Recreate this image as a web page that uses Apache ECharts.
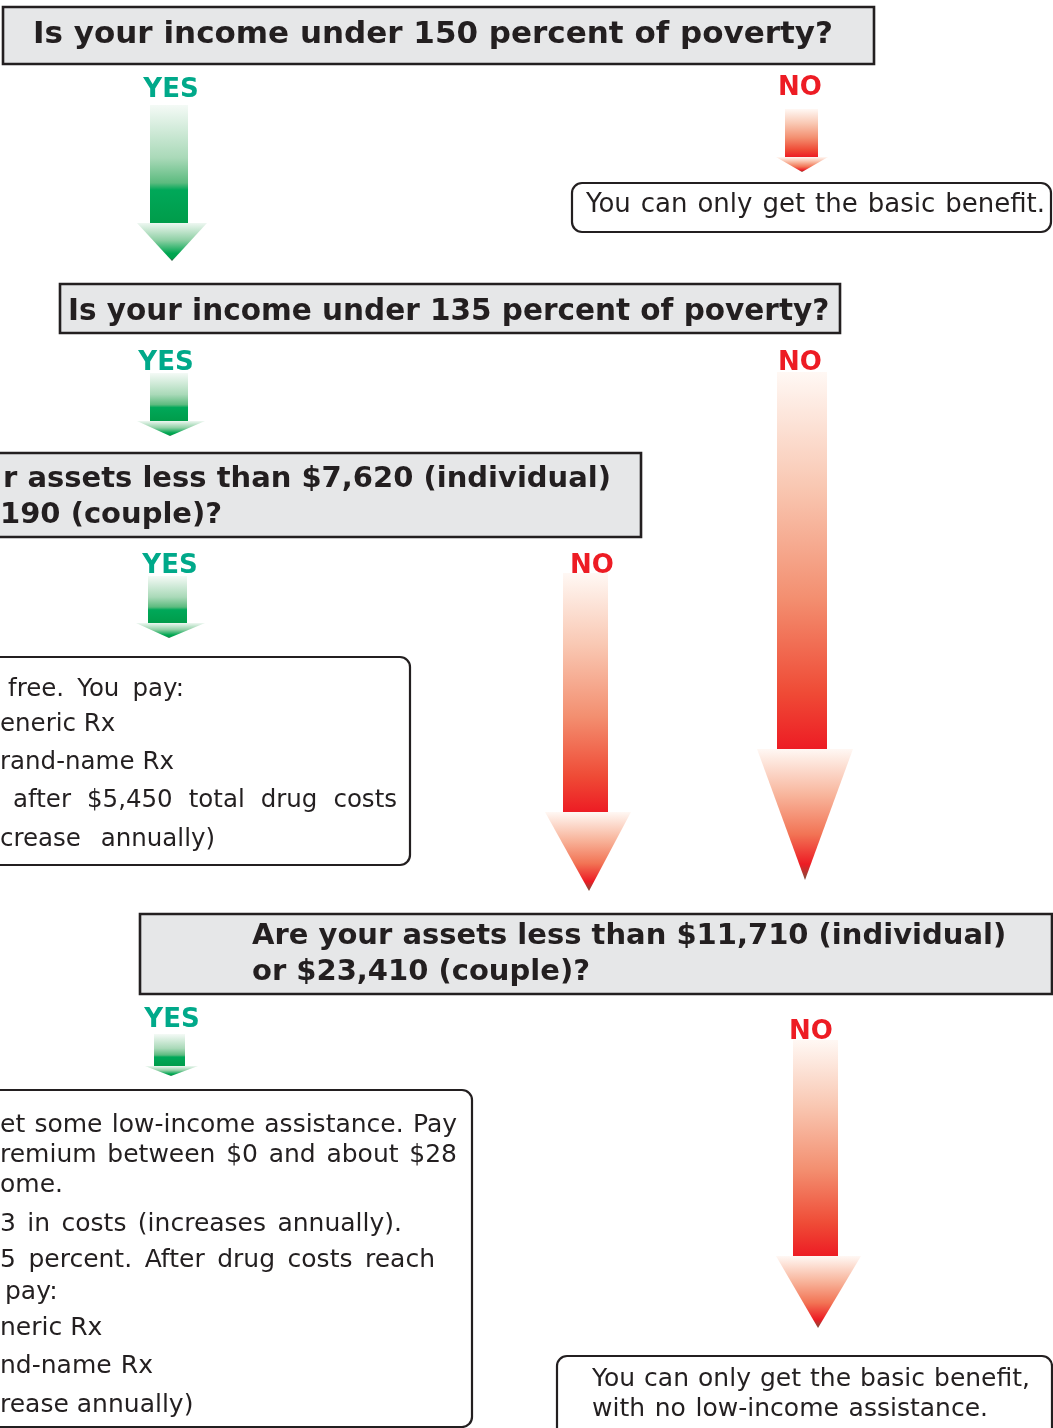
<!DOCTYPE html>
<html>
<head>
<meta charset="utf-8">
<script src="https://cdn.jsdelivr.net/npm/echarts@6/dist/echarts.min.js"></script>
<style>
html,body{margin:0;padding:0;background:#fff;}
#chart{width:1053px;height:1428px;}
</style>
</head>
<body>
<div id="chart"></div>
<script>
// texts of the flow chart
var questionText = [
	['Is your income under 150 percent of poverty?'],
	['Is your income under 135 percent of poverty?'],
	['r assets less than $7,620 (individual)', '190 (couple)?'],
	['Are your assets less than $11,710 (individual)', 'or $23,410 (couple)?']
];
var answerText = [
	['You can only get the basic benefit.'],
	['free. You pay:', 'eneric Rx', 'rand-name Rx', 'after $5,450 total drug costs', 'crease annually)'],
	['et some low-income assistance. Pay', 'remium between $0 and about $28', 'ome.',
	 '3 in costs (increases annually).', '5 percent. After drug costs reach', 'pay:',
	 'neric Rx', 'nd-name Rx', 'rease annually)'],
	['You can only get the basic benefit,', 'with no low-income assistance.']
];
var arrowLabels = ['YES', 'NO', 'YES', 'NO', 'YES', 'NO', 'YES', 'NO'];

// layout in page units (x 0..1053, y 0..1428)
var questionBox = [[3, 7, 874, 64], [60, 284, 840, 333], [-10, 453, 641, 537], [140, 914, 1052, 994]];
var questionFont = [31, 29.5, 29, 29];
var questionPos = [
	[[33, 35, 'left']],
	[[68, 312, 'left']],
	[[611, 479, 'right'], [0, 515, 'left']],
	[[252, 936, 'left'], [252, 972, 'left']]
];
var answerBox = [[572, 183, 1051, 232], [-10, 657, 410, 865], [-10, 1090, 472, 1427], [557, 1356, 1052, 1445]];
var answerFont = [26, 24.5, 25, 25];
// [left, middle y, right edge of the line]
var answerPos = [
	[[586, 205, 1045]],
	[[8, 690, 184], [0, 725, 112], [0, 763, 174], [13, 801, 397], [0, 840, 215]],
	[[0, 1125, 457], [0, 1155, 457], [0, 1185, 60], [0, 1224, 402], [0, 1260, 435], [5, 1292, 61],
	 [0, 1328, 91], [0, 1366, 153], [0, 1405, 193]],
	[[592, 1379, 1030], [592, 1409, 988]]
];
// label position, shaft [x0,x1,y0,y1], head [x0,x1,y0,tipX,tipY]
var labelPos = [[171, 90], [800, 88], [166, 363], [800, 363], [170, 566], [592, 566], [172, 1020], [811, 1032]];
var shafts = [[150, 188, 105, 223], [785, 818, 109, 157], [150, 188, 373, 421], [777, 827, 372, 749],
	[148, 187, 576, 623], [563, 608, 573, 812], [154, 185, 1034, 1066], [793, 838, 1040, 1256]];
var heads = [[137, 207, 223, 172, 261], [776, 828, 157, 802, 172], [137, 205, 421, 170, 436], [757, 853, 749, 805, 880],
	[136, 205, 623, 169, 638], [545, 631, 812, 589, 891], [145, 198, 1066, 171, 1076], [776, 861, 1256, 818, 1328]];

var FONT = '"DejaVu Sans", Verdana, sans-serif';
var INK = '#231f20';

function grad(stops) {
	return new echarts.graphic.LinearGradient(0, 0, 0, 1, stops.map(function (s) {
		return {offset: s[0], color: s[1]};
	}));
}
var greenShaft = [[0, '#f4faf6'], [0.45, '#a9d9b8'], [0.66, '#5cbb7f'], [0.72, '#00a859'], [1, '#009c4a']];
var greenHead = [[0, '#eef7f1'], [0.45, '#8fd0a5'], [0.8, '#00a651'], [0.92, '#00a04c'], [1, '#3d5a48']];
var redShaft = [[0, '#fff8f4'], [0.3, '#f9c8b3'], [0.6, '#f38f70'], [0.85, '#ef4b36'], [1, '#ed1c24']];
var redHead = [[0, '#fff8f4'], [0.35, '#f8b59c'], [0.65, '#f27455'], [0.88, '#ed1c24'], [1, '#7d4e3c']];

// text width, for spreading words across a line like the justified original
var measureCtx = document.createElement('canvas').getContext('2d');
function textWidth(str, font) {
	measureCtx.font = font;
	return measureCtx.measureText(str).width;
}

// build item lists for the custom series
var boxItems = [];
questionBox.forEach(function (b) { boxItems.push({value: b, kind: 'q'}); });
answerBox.forEach(function (b) { boxItems.push({value: b, kind: 'a'}); });

var textItems = [];
questionText.forEach(function (lines, i) {
	lines.forEach(function (t, j) {
		var p = questionPos[i][j];
		textItems.push({value: [p[0], p[1]], text: t, size: questionFont[i], weight: 'bold', align: p[2], color: INK});
	});
});
answerText.forEach(function (lines, i) {
	lines.forEach(function (t, j) {
		var p = answerPos[i][j];
		textItems.push({value: [p[0], p[1]], right: p[2], text: t, size: answerFont[i], weight: 'normal',
			align: 'left', color: INK});
	});
});
arrowLabels.forEach(function (t, i) {
	textItems.push({value: labelPos[i], text: t, size: 26, weight: 'bold', align: 'center',
		color: t === 'YES' ? '#00a98a' : '#ed1c24'});
});

var arrowItems = arrowLabels.map(function (t, i) {
	return {value: shafts[i].concat(heads[i]), yes: t === 'YES'};
});

var myChart = echarts.init(document.getElementById('chart'));
var option = {
	backgroundColor: '#fff',
	animation: false,
	grid: {left: 0, right: 0, top: 0, bottom: 0},
	xAxis: {type: 'value', min: 0, max: 1053, show: false},
	yAxis: {type: 'value', min: 0, max: 1428, inverse: true, show: false},
	series: [
		{
			name: 'boxes',
			type: 'custom',
			z: 1,
			data: boxItems,
			renderItem: function (params, api) {
				var it = boxItems[params.dataIndex];
				var p0 = api.coord([api.value(0), api.value(1)]);
				var p1 = api.coord([api.value(2), api.value(3)]);
				var q = it.kind === 'q';
				return {
					type: 'rect',
					shape: {x: p0[0], y: p0[1], width: p1[0] - p0[0], height: p1[1] - p0[1], r: q ? 0 : 10},
					style: {fill: q ? '#e6e7e8' : '#fff', stroke: INK, lineWidth: q ? 2.6 : 2.2}
				};
			}
		},
		{
			name: 'arrows',
			type: 'custom',
			z: 2,
			data: arrowItems,
			renderItem: function (params, api) {
				var it = arrowItems[params.dataIndex];
				var s0 = api.coord([api.value(0), api.value(2)]);
				var s1 = api.coord([api.value(1), api.value(3)]);
				var hl = api.coord([api.value(4), api.value(6)]);
				var hr = api.coord([api.value(5), api.value(6)]);
				var tip = api.coord([api.value(7), api.value(8)]);
				return {
					type: 'group',
					children: [{
						type: 'rect',
						shape: {x: s0[0], y: s0[1], width: s1[0] - s0[0], height: s1[1] - s0[1]},
						style: {fill: grad(it.yes ? greenShaft : redShaft)}
					}, {
						type: 'polygon',
						shape: {points: [hl, hr, tip]},
						style: {fill: grad(it.yes ? greenHead : redHead)}
					}]
				};
			}
		},
		{
			name: 'texts',
			type: 'custom',
			z: 3,
			data: textItems,
			renderItem: function (params, api) {
				var it = textItems[params.dataIndex];
				var p = api.coord([api.value(0), api.value(1)]);
				var font = it.weight + ' ' + it.size + 'px ' + FONT;
				var base = {fill: it.color, font: font, textVerticalAlign: 'middle'};
				var words = it.text.split(' ');
				if (it.right != null && words.length > 1) {
					var right = api.coord([it.right, api.value(1)])[0];
					var widths = words.map(function (w) { return textWidth(w, font); });
					var total = widths.reduce(function (a, b) { return a + b; }, 0);
					var gap = (right - p[0] - total) / (words.length - 1);
					if (gap > textWidth(' ', font)) {
						var x = p[0];
						return {
							type: 'group',
							children: words.map(function (w, k) {
								var el = {type: 'text', x: x, y: p[1],
									style: echarts.util.extend({text: w, textAlign: 'left'}, base)};
								x += widths[k] + gap;
								return el;
							})
						};
					}
				}
				return {
					type: 'text',
					x: p[0],
					y: p[1],
					style: echarts.util.extend({text: it.text, textAlign: it.align}, base)
				};
			}
		}
	]
};
myChart.setOption(option);
window.addEventListener('resize', function () {
	myChart.resize();
});
</script>
</body>
</html>
